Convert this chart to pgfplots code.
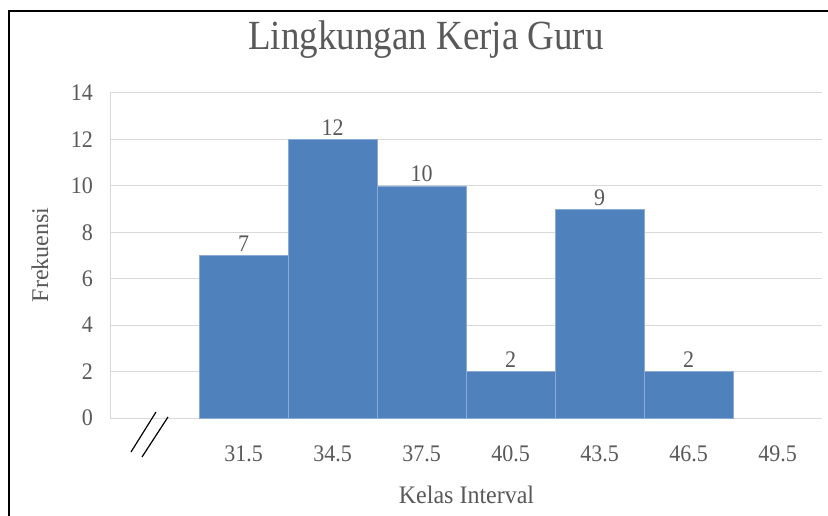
\documentclass[border=0pt]{standalone}
\usepackage{fontspec}
\setmainfont{Liberation Serif}
\usepackage{pgfplots}
\pgfplotsset{compat=1.18}
\definecolor{barblue}{RGB}{79,129,189}
\definecolor{baredge}{RGB}{140,170,212}
\definecolor{txtgray}{RGB}{89,89,89}
\definecolor{gridgray}{RGB}{217,217,217}
\begin{document}
\begin{tikzpicture}
\useasboundingbox (0pt,0pt) rectangle (828pt,-516pt);
\draw[black, line width=1.3pt] (9pt,-520pt) -- (9pt,-11pt) -- (832pt,-11pt);
\begin{axis}[
  at={(110pt,-418pt)}, anchor=south west,
  scale only axis, width=712pt, height=325pt,
  xmin=-0.5, xmax=7.5, ymin=0, ymax=14,
  ytick={0,2,...,14},
  xtick={1,2,3,4,5,6,7},
  xticklabels={31.5,34.5,37.5,40.5,43.5,46.5,49.5},
  major tick length=0pt,
  axis line style={gridgray, line width=1pt},
  axis x line*=bottom, axis y line*=left,
  ymajorgrids, grid style={gridgray, line width=1pt},
  /pgf/number format/assume math mode=true,
  tick label style={font=\fontsize{22}{22}\selectfont, text=txtgray, yscale=1.08},
  xticklabel style={anchor=base, inner sep=0pt, yshift=-40pt},
  yticklabel style={anchor=east, inner sep=0pt, xshift=-17pt},
  ybar, bar width=1, bar shift=0pt,
  clip=false,
  nodes near coords,
  every node near coord/.append style={font=\fontsize{22}{22}\selectfont, text=txtgray, anchor=base, inner sep=0pt, yshift=4pt, yscale=1.08},
]
\addplot[fill=barblue, draw=baredge, line width=0.6pt] coordinates {(1,7) (2,12) (3,10) (4,2) (5,9) (6,2)};
\end{axis}
\draw[black, line width=1.2pt] (131pt,-452pt) -- (156pt,-412pt);
\draw[black, line width=1.2pt] (142pt,-457pt) -- (168pt,-417pt);
\node[font=\fontsize{37}{37}\selectfont, text=txtgray, anchor=base, yscale=1.12] at (426pt,-50pt) {Lingkungan Kerja Guru};
\node[font=\fontsize{24}{24}\selectfont, text=txtgray, anchor=base, yscale=1.05] at (466.5pt,-503pt) {Kelas Interval};
\node[font=\fontsize{24}{24}\selectfont, text=txtgray, rotate=90, anchor=center] at (40pt,-255pt) {Frekuensi};
\end{tikzpicture}
\end{document}
